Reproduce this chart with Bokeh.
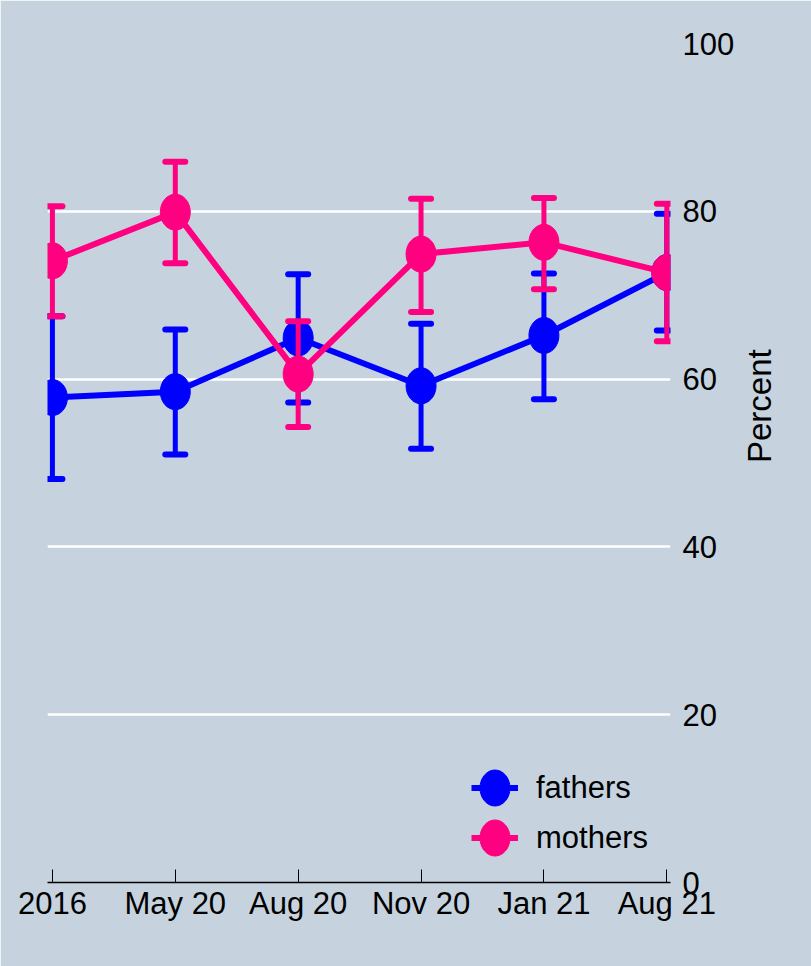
import math
from bokeh.plotting import figure
from bokeh.models import Range1d, FixedTicker, Legend, LegendItem
from bokeh.embed import file_html
from bokeh.resources import INLINE

# ---- data ----
waves = ["2016", "May 20", "Aug 20", "Nov 20", "Jan 21", "Aug 21"]
fathers = [57.8, 58.5, 64.9, 59.2, 65.2, 72.7]
fathers_lo = [48.1, 51.0, 57.2, 51.7, 57.6, 65.8]
fathers_hi = [67.5, 65.9, 72.5, 66.6, 72.6, 79.7]
mothers = [74.1, 79.9, 60.6, 74.9, 76.3, 72.7]
mothers_lo = [67.5, 73.8, 54.3, 68.0, 70.7, 64.5]
mothers_hi = [80.6, 85.9, 66.9, 81.5, 81.6, 80.9]
y_ticks = [0, 20, 40, 60, 80, 100]
grid_ticks = [20, 40, 60, 80]

BG = "#C6D3DF"
BLUE = "#0000FF"
PINK = "#FF0080"
FONT = "Liberation Sans"
FS = "31px"

x = list(range(len(waves)))

p = figure(width=811, height=966, output_backend="svg", toolbar_location=None,
           x_range=Range1d(-0.04, 5.03), y_range=Range1d(0, 100),
           y_axis_location="right",
           min_border_left=47, min_border_right=141, min_border_top=43, min_border_bottom=84,
           background_fill_color=BG, border_fill_color=BG,
           outline_line_color=BG, outline_line_width=2)

p.xgrid.visible = False
p.ygrid.ticker = FixedTicker(ticks=grid_ticks)
p.ygrid.grid_line_color = "white"
p.ygrid.grid_line_width = 2.5

xa = p.xaxis[0]
xa.ticker = FixedTicker(ticks=x)
xa.major_label_overrides = {i: w for i, w in zip(x, waves)}
xa.minor_tick_line_color = None
xa.major_tick_in = 13
xa.major_tick_out = 0
xa.major_tick_line_color = "black"
xa.major_tick_line_width = 1
xa.axis_line_color = "black"
xa.axis_line_width = 1.5
xa.major_label_text_font = FONT
xa.major_label_text_font_size = FS
xa.major_label_text_color = "black"
xa.major_label_standoff = 3

ya = p.yaxis[0]
ya.ticker = FixedTicker(ticks=y_ticks)
ya.axis_line_color = None
ya.major_tick_line_color = None
ya.minor_tick_line_color = None
ya.major_label_standoff = 6
ya.major_label_text_font = FONT
ya.major_label_text_font_size = FS
ya.major_label_text_color = "black"
ya.axis_label = "Percent"
ya.axis_label_text_font = FONT
ya.axis_label_text_font_size = "33px"
ya.axis_label_text_font_style = "normal"
ya.axis_label_text_color = "black"
ya.axis_label_standoff = 22
try:
    ya.axis_label_orientation = math.pi / 2
except Exception:
    pass

items = []
for name, mid, lo, hi, col in [("fathers", fathers, fathers_lo, fathers_hi, BLUE),
                               ("mothers", mothers, mothers_lo, mothers_hi, PINK)]:
    p.segment(x0=x, y0=lo, x1=x, y1=hi, line_color=col, line_width=5)
    p.scatter(x=x, y=lo, marker="dash", size=20, line_width=6, line_color=col, line_cap="round")
    p.scatter(x=x, y=hi, marker="dash", size=20, line_width=6, line_color=col, line_cap="round")
    ln = p.line(x=x, y=mid, line_color=col, line_width=6)
    el = p.ellipse(x=x, y=mid, width=30, height=36, width_units="screen", height_units="screen",
                   fill_color=col, line_color=col)
    items.append(LegendItem(label=name, renderers=[ln, el]))

legend = Legend(items=items, location=(424, 22), background_fill_alpha=0, border_line_color=None,
                padding=0, margin=0, spacing=5, glyph_width=47, glyph_height=45, label_height=45,
                label_standoff=18, label_text_font=FONT, label_text_font_size=FS,
                label_text_color="black")
p.add_layout(legend)

open("out.html", "w").write(file_html(p, INLINE))
